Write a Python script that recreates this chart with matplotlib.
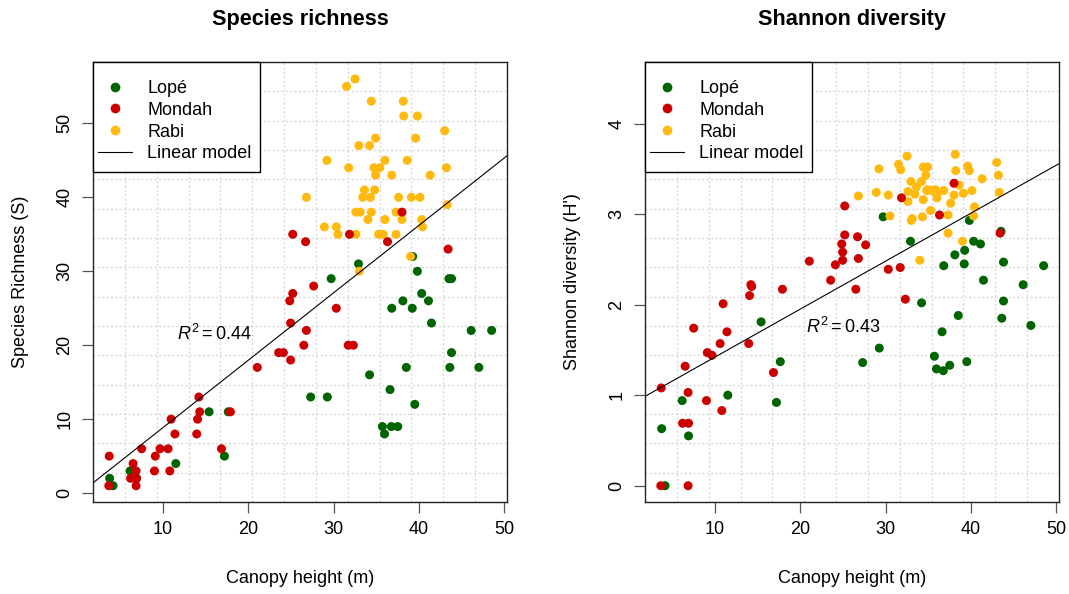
import numpy as np
import matplotlib
matplotlib.use("Agg")
import matplotlib.pyplot as plt
from matplotlib.lines import Line2D
from matplotlib.patches import Rectangle

plt.rcParams["font.family"] = ["Liberation Sans", "DejaVu Sans"]
plt.rcParams["mathtext.fontset"] = "custom"
plt.rcParams["mathtext.rm"] = "Liberation Sans"
plt.rcParams["mathtext.it"] = "Liberation Sans:italic"

# canopy height (m), species richness (S) and Shannon index (H') per plot
lope_height = [3.75, 4.15, 6.15, 6.9, 11.5, 15.4, 17.2, 17.65, 27.3, 29.25,
               29.7, 32.9, 34.2, 35.7, 35.95, 36.6, 36.75, 36.8, 37.5, 38.1,
               38.5, 39.2, 39.25, 39.5, 39.8, 40.3, 41.1, 41.45, 43.5, 43.6,
               43.8, 43.8, 46.1, 47.0, 48.5]
lope_richness = [2, 1, 3, 2, 4, 11, 5, 11, 13, 13,
                 29, 31, 16, 9, 8, 14, 9, 25, 9, 26,
                 17, 25, 32, 12, 30, 27, 26, 23, 29, 17,
                 29, 19, 22, 17, 22]
lope_shannon = [0.63, 0.0, 0.94, 0.55, 1.00, 1.81, 0.92, 1.37, 1.36, 1.52,
                2.97, 2.70, 2.02, 1.43, 1.29, 1.70, 1.27, 2.43, 1.33, 2.55,
                1.88, 2.45, 2.60, 1.37, 2.93, 2.70, 2.67, 2.27, 2.81, 1.85,
                2.47, 2.04, 2.22, 1.77, 2.43]

mondah_height = [3.65, 3.7, 6.2, 6.5, 6.85, 6.85, 6.9, 7.5, 9.0, 9.1,
                 9.65, 10.6, 10.8, 10.95, 11.4, 13.95, 14.05, 14.2, 14.3, 16.85,
                 17.9, 21.05, 23.55, 24.1, 24.85, 24.95, 24.95, 25.2, 25.2, 26.5,
                 26.7, 26.8, 27.65, 30.3, 31.7, 31.85, 32.3, 36.3, 38.0, 43.4]
mondah_richness = [1, 5, 2, 4, 3, 1, 2, 6, 3, 5,
                   6, 6, 3, 10, 8, 8, 10, 13, 11, 6,
                   11, 17, 19, 19, 26, 18, 23, 27, 35, 20,
                   34, 22, 28, 25, 20, 35, 20, 34, 38, 33]
mondah_shannon = [0.0, 1.08, 0.69, 1.32, 1.03, 0.0, 0.69, 1.74, 0.94, 1.47,
                  1.44, 1.57, 0.83, 2.01, 1.70, 1.57, 2.10, 2.22, 2.20, 1.25,
                  2.17, 2.48, 2.27, 2.44, 2.67, 2.49, 2.58, 2.77, 3.09, 2.17,
                  2.75, 2.51, 2.66, 2.39, 2.41, 3.18, 2.06, 2.99, 3.34, 2.79]

rabi_height = [26.8, 28.9, 29.2, 30.3, 30.5, 31.5, 31.75, 32.5, 32.6, 32.6,
               32.95, 33.1, 33.0, 33.4, 33.6, 34.0, 34.2, 34.3, 34.4, 34.4,
               34.7, 34.8, 34.9, 34.9, 35.25, 35.4, 35.8, 36.0, 36.0, 36.8,
               37.3, 37.3, 37.6, 38.0, 38.15, 38.2, 38.6, 39.0, 39.1, 39.6,
               39.8, 40.1, 40.3, 40.4, 41.3, 43.0, 43.2, 43.3]
rabi_richness = [40, 36, 45, 36, 35, 55, 44, 56, 38, 35,
                 47, 38, 30, 40, 41, 37, 47, 40, 53, 38,
                 44, 41, 48, 43, 35, 44, 35, 45, 37, 43,
                 38, 35, 40, 37, 53, 51, 45, 32, 40, 48,
                 51, 40, 37, 36, 43, 49, 44, 39]
rabi_shannon = [3.20, 3.24, 3.50, 3.21, 2.98, 3.55, 3.49, 3.64, 3.25, 3.14,
                3.36, 2.95, 2.93, 3.22, 3.30, 2.49, 3.36, 2.97, 3.52, 3.16,
                3.43, 3.26, 3.52, 3.27, 3.04, 3.26, 3.27, 3.18, 3.22, 3.26,
                2.99, 2.79, 3.12, 3.21, 3.66, 3.48, 3.32, 2.70, 3.23, 3.53,
                3.48, 3.26, 2.98, 3.08, 3.39, 3.57, 3.43, 3.24]

# linear model coefficients (intercept, slope) and R squared
richness_fit = (-0.26, 0.912)
shannon_fit = (0.891, 0.053)
richness_r2 = "0.44"
shannon_r2 = "0.43"

site_names = ["Lopé", "Mondah", "Rabi"]
site_colors = {"Lopé": "#006400", "Mondah": "#CD0000", "Rabi": "#FFB90F"}

W, H = 1069, 594
fig = plt.figure(figsize=(W / 100, H / 100), dpi=100)

ax_s = fig.add_axes([93 / W, 1 - 502 / H, 414 / W, 440 / H])
ax_h = fig.add_axes([645 / W, 1 - 502 / H, 414 / W, 440 / H])

panels = [
    (ax_s, "Species richness", "Species Richness (S)",
     [lope_richness, mondah_richness, rabi_richness], richness_fit, richness_r2,
     (-1.2, 58.3), np.arange(0, 51, 10), (16.0, 21.5)),
    (ax_h, "Shannon diversity", "Shannon diversity (H')",
     [lope_shannon, mondah_shannon, rabi_shannon], shannon_fit, shannon_r2,
     (-0.18, 4.68), np.arange(0, 5, 1), (25.0, 1.75)),
]
heights = {"Lopé": lope_height, "Mondah": mondah_height, "Rabi": rabi_height}

for ax, title, ylabel, yvals, fit, r2, ylim, yticks, r2_pos in panels:
    xlim = (1.8, 50.3)
    ax.set_xlim(xlim)
    ax.set_ylim(ylim)

    # dotted background grid, evenly dividing the plot region
    for k in range(1, 13):
        ax.axvline(xlim[0] + k * (xlim[1] - xlim[0]) / 13, color="#D3D3D3",
                   lw=0.9, ls=(0, (1.5, 2)), zorder=0)
    for k in range(1, 15):
        ax.axhline(ylim[0] + k * (ylim[1] - ylim[0]) / 15, color="#D3D3D3",
                   lw=0.9, ls=(0, (1.5, 2)), zorder=0)

    vals = dict(zip(site_names, yvals))
    for site in ["Lopé", "Rabi", "Mondah"]:
        ax.scatter(heights[site], vals[site], s=42, color=site_colors[site],
                   edgecolors="none", zorder=3)

    ax.axline((0, fit[0]), slope=fit[1], color="black", lw=0.8, zorder=4)
    ax.text(r2_pos[0], r2_pos[1], r"$R^2 = $" + r2, fontsize=13,
            ha="center", va="center", zorder=5)

    ax.set_xticks([10, 20, 30, 40, 50])
    ax.set_yticks(yticks)
    ax.tick_params(length=8, width=0.9, color="#555555", labelsize=13, pad=6)
    for lbl in ax.get_yticklabels():
        lbl.set_rotation(90)
        lbl.set_va("center")
    for sp in ax.spines.values():
        sp.set_color("#222222")
        sp.set_linewidth(1.0)

    ax.set_xlabel("Canopy height (m)", fontsize=13, labelpad=23)
    ax.set_ylabel(ylabel, fontsize=13, labelpad=20)
    pos = ax.get_position()
    fig.text((pos.x0 + pos.x1) / 2, 1 - 20 / H, title, fontsize=15.6,
             fontweight="bold", ha="center", va="center")

    # legend box in the top-left corner, with the entries placed inside it
    ax.add_patch(Rectangle((0, 1 - 0.2507), 0.403, 0.2507, transform=ax.transAxes,
                           facecolor="white", edgecolor="black", lw=1.0,
                           zorder=6, clip_on=False))
    handles = [Line2D([], [], ls="none", marker="o", ms=7,
                      color=site_colors[s], markeredgewidth=0) for s in site_names]
    handles.append(Line2D([], [], color="black", lw=0.8))
    leg = ax.legend(handles, site_names + ["Linear model"], loc="upper left",
                    bbox_to_anchor=(0.0114, 0.9595), borderaxespad=0, fontsize=13,
                    frameon=False, handlelength=1.9, handletextpad=0.85,
                    labelspacing=0.27, borderpad=0)
    leg.set_zorder(7)

fig.savefig("out.png", dpi=100)
